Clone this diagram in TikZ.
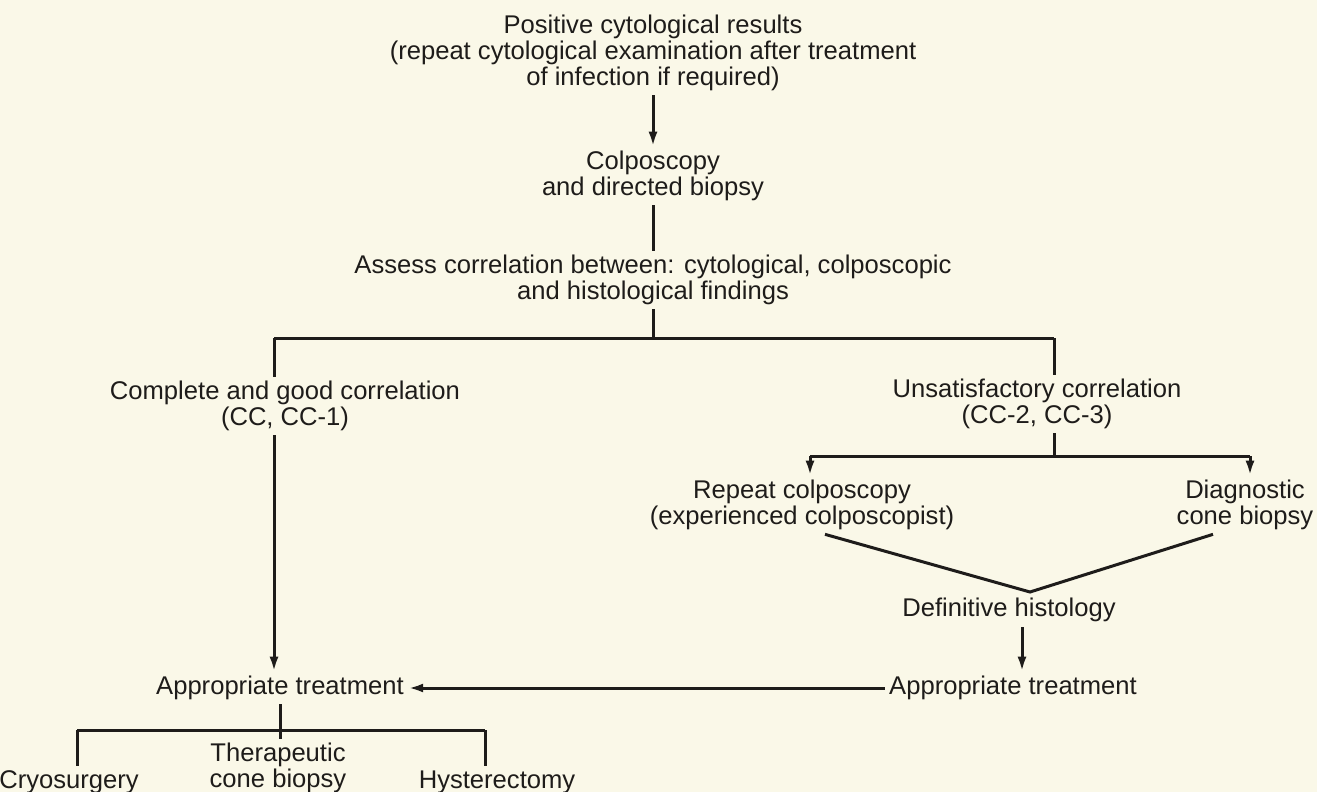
\documentclass[tikz,border=0pt]{standalone}
\usepackage{fontspec}
\setmainfont{Liberation Sans}
\usepackage{tikz}
\usetikzlibrary{arrows.meta,positioning,calc}
\definecolor{paper}{RGB}{250,248,232}
\definecolor{ink}{RGB}{30,28,26}
\tikzstyle{flowtext} = [text=ink, align=center, inner sep=2pt, font=\fontsize{12.8}{13}\selectfont]
\tikzstyle{arrow} = [draw, line width=1.5pt, color=ink, -{Latex[length=7.5pt,width=4.5pt]}]
\tikzstyle{line} = [draw, line width=1.5pt, color=ink]
\newcommand{\flowtext}[2]{node (#1) [flowtext] {#2}}

\begin{document}
\begin{tikzpicture}[x=0.5pt,y=-0.5pt]
\path [use as bounding box, fill=paper] (0,0) rectangle (1317,792);

% text blocks
\path (653,53) \flowtext{pos}{Positive cytological results\\(repeat cytological examination after treatment\\of infection if required)};
\path (pos)+(0,123) \flowtext{colp}{Colposcopy\\and directed biopsy};
\path (colp)+(0,104) \flowtext{assess}{Assess correlation between: cytological, colposcopic\\and histological findings};
\path (285,406) \flowtext{good}{Complete and good correlation\\(CC, CC-1)};
\path (1037,404) \flowtext{unsat}{Unsatisfactory correlation\\(CC-2, CC-3)};
\path (802,505) \flowtext{rep}{Repeat colposcopy\\(experienced colposcopist)};
\path (1245,505) \flowtext{diag}{Diagnostic\\cone biopsy};
\path (1009,610) \flowtext{defh}{Definitive histology};
\path (defh)+(4,78) \flowtext{treatR}{Appropriate treatment};
\path (280,688) \flowtext{treatL}{Appropriate treatment};
\path (treatL)+(-2,80) \flowtext{thera}{Therapeutic\\cone biopsy};
\path (69,782) \flowtext{cryo}{Cryosurgery};
\path (497,782) \flowtext{hyst}{Hysterectomy};

% junctions
\coordinate (split) at (653,338);
\coordinate (lcorner) at (274,338);
\coordinate (rcorner) at (1054,338);
\coordinate (rsplit) at (1054,456);
\coordinate (rleft) at (810,456);
\coordinate (rright) at (1250,456);
\coordinate (vtip) at (1030,592);
\coordinate (hdown) at (1022,627);
\coordinate (bleft) at (77,730);
\coordinate (bright) at (485,730);

\path [arrow] (pos) -- (colp);
\path [line] (colp) -- (assess);
\path [line] (assess) -- (split);
\path [line] (lcorner) -- (rcorner);
\path [line] (lcorner) -- (lcorner |- good.north);
\path [arrow] (lcorner |- good.south) -- (lcorner |- treatL.north);
\path [line] (rcorner) -- (rcorner |- unsat.north);
\path [line] (rcorner |- unsat.south) -- (rsplit);
\path [line] (rleft) -- (rright);
\path [arrow] (rleft) -- (rleft |- rep.north);
\path [arrow] (rright) -- (rright |- diag.north);
\path [line] ($(rep.south)+(23,0)$) -- (vtip) -- ($(diag.south)+(-32,0)$);
\path [arrow] (hdown) -- (hdown |- treatR.north);
\path [arrow] (treatR) -- (treatL);
\path [line] (treatL.south) -- (treatL.south |- thera.north);
\path [line] (bleft) -- (bright);
\path [line] (bleft) -- (bleft |- cryo.north);
\path [line] (bright) -- (bright |- hyst.north);
\end{tikzpicture}
\end{document}
